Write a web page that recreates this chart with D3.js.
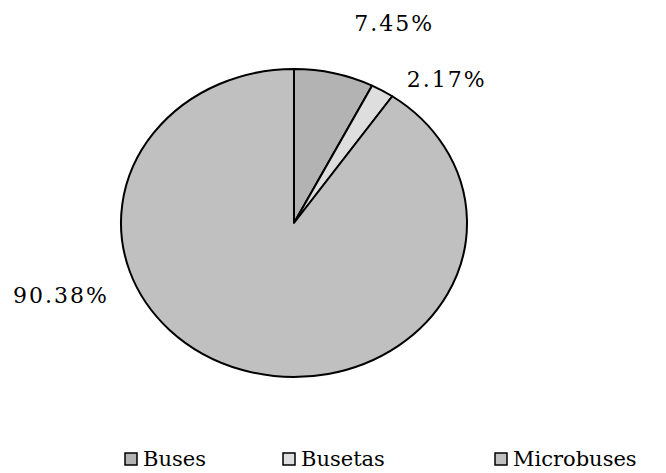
<!DOCTYPE html>
<html>
<head>
<meta charset="utf-8">
<script src="https://cdn.jsdelivr.net/npm/d3@7"></script>
<style>
  body { margin: 0; background: #fff; }
  text { font-family: "DejaVu Serif", serif; fill: #000; }
</style>
</head>
<body>
<script>
// chart data
var categories = ["Buses", "Busetas", "Microbuses"];
var shares = [7.45, 2.17, 90.38];
var labels = ["7.45%", "2.17%", "90.38%"];
var colors = ["#b3b3b3", "#dedede", "#c0c0c0"];

var width = 666, height = 473;
var cx = 294, cy = 223, rx = 173, ry = 154;

var svg = d3.select("body").append("svg")
    .attr("width", width)
    .attr("height", height);

var data = categories.map(function(c, i) { return { name: c, value: shares[i], label: labels[i], color: colors[i] }; });

var pie = d3.pie().sort(null).value(function(d) { return d.value; });
var arcs = pie(data);
var arc = d3.arc().innerRadius(0).outerRadius(1);

// ellipse: draw unit pie then stretch it
var g = svg.append("g")
    .attr("transform", "translate(" + cx + "," + cy + ") scale(" + rx + "," + ry + ")");

g.selectAll("path")
    .data(arcs)
    .enter()
    .append("path")
    .attr("d", arc)
    .attr("fill", function(d) { return d.data.color; })
    .attr("stroke", "#000")
    .attr("stroke-width", 2)
    .attr("stroke-linejoin", "round")
    .attr("vector-effect", "non-scaling-stroke");

// label placement, Excel style: pushed outside the pie
var labelOffset = [[58, -20], [60, 15], [-179, -104]];
svg.selectAll("text.lbl")
    .data(arcs)
    .enter()
    .append("text")
    .attr("class", "lbl")
    .attr("x", function(d, i) {
        var a = (d.startAngle + d.endAngle) / 2;
        return cx + rx * 1.05 * Math.sin(a) + labelOffset[i][0];
    })
    .attr("y", function(d, i) {
        var a = (d.startAngle + d.endAngle) / 2;
        return cy - ry * 1.2 * Math.cos(a) + labelOffset[i][1];
    })
    .attr("text-anchor", "middle")
    .attr("dominant-baseline", "central")
    .attr("font-size", 22)
    .attr("letter-spacing", 2)
    .text(function(d) { return d.data.label; });

// legend
var legendX = d3.scaleOrdinal().domain(categories).range([125, 283, 495]);
var leg = svg.selectAll("g.leg")
    .data(data)
    .enter()
    .append("g")
    .attr("class", "leg")
    .attr("transform", function(d) { return "translate(" + legendX(d.name) + ",459)"; });

leg.append("rect")
    .attr("x", 0).attr("y", -6)
    .attr("width", 12).attr("height", 12)
    .attr("fill", function(d) { return d.color; })
    .attr("stroke", "#000")
    .attr("stroke-width", 1.5);

leg.append("text")
    .attr("x", 18)
    .attr("y", 0)
    .attr("dominant-baseline", "central")
    .attr("font-size", 21)
    .text(function(d) { return d.name; });
</script>
</body>
</html>
